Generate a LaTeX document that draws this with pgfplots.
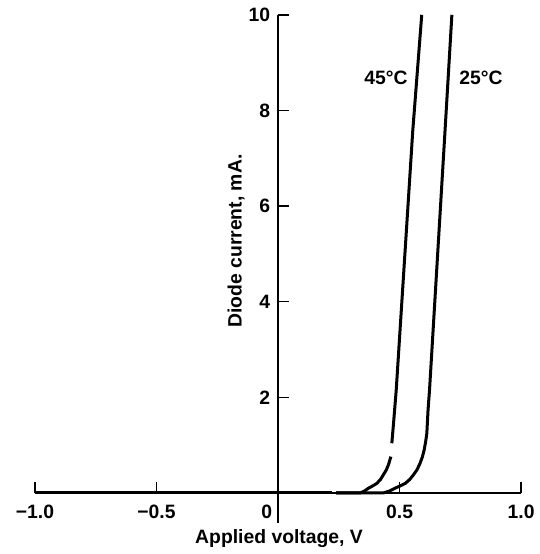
\documentclass[border=0pt]{standalone}
\usepackage{fontspec}
\setmainfont{Liberation Sans}
\usepackage{pgfplots}
\pgfplotsset{compat=1.18}

\newcommand{\lbl}{\bfseries\fontsize{14.5}{17}\selectfont}

\begin{document}
\begin{tikzpicture}
    \begin{axis}[
        scale only axis,
        width=364.5pt,
        height=381.1pt,
        xmin=-1, xmax=1,
        ymin=-0.63, ymax=10,
        axis x line*=middle,
        axis y line*=middle,
        axis line style={line width=1.1pt},
        xtick={-1,-0.5,0.5,1},
        xticklabels={−1.0,−0.5,0.5,1.0},
        ytick={2,4,6,8,10},
        tick align=inside,
        major tick length=8pt,
        tick style={line width=1.1pt, black},
        /pgf/number format/assume math mode=true,
        ticklabel style={font=\lbl},
        xticklabel style={anchor=base, yshift=-19.5pt},
        yticklabel style={xshift=-2.5pt},
        clip=false
    ]
    % reverse region, shared by both curves
    \addplot[line width=2.25pt] coordinates {(-1,0) (0.221,0)};

    % 45 C (broken near 1 mA as in the print)
    \addplot[line width=2.25pt, line join=round] coordinates {
        (0.239,0) (0.337,0) (0.355,0.04) (0.372,0.10) (0.390,0.15) (0.406,0.20)
        (0.421,0.28) (0.433,0.38) (0.445,0.48) (0.454,0.59) (0.464,0.76)
    };
    \addplot[line width=2.25pt, line join=round] coordinates {
        (0.468,1.04) (0.475,1.46) (0.486,2.15) (0.554,7.57) (0.591,10)
    };

    % 25 C
    \addplot[line width=2.25pt, line join=round] coordinates {
        (0.239,0) (0.432,0) (0.458,0.04) (0.481,0.10) (0.503,0.15) (0.523,0.20)
        (0.541,0.28) (0.557,0.38) (0.572,0.49) (0.584,0.62) (0.594,0.76)
        (0.601,0.90) (0.607,1.07) (0.612,1.25) (0.617,1.74) (0.623,2.15)
        (0.687,7.59) (0.715,10)
    };

    \node[font=\lbl] at (axis cs:0.444,8.69) {45°C};
    \node[font=\lbl] at (axis cs:0.835,8.69) {25°C};
    \node[font=\lbl, anchor=base] at (axis cs:-0.047,-0.544) {0};
    \node[font=\lbl, anchor=base] at (axis cs:0.004,-1.046) {Applied voltage, V};
    \node[font=\lbl, rotate=90] at (axis cs:-0.173,5.27) {Diode current, mA.};

    \path (axis cs:-1.144,-1.276) rectangle (axis cs:1.066,10.31);
    \end{axis}
\end{tikzpicture}
\end{document}
